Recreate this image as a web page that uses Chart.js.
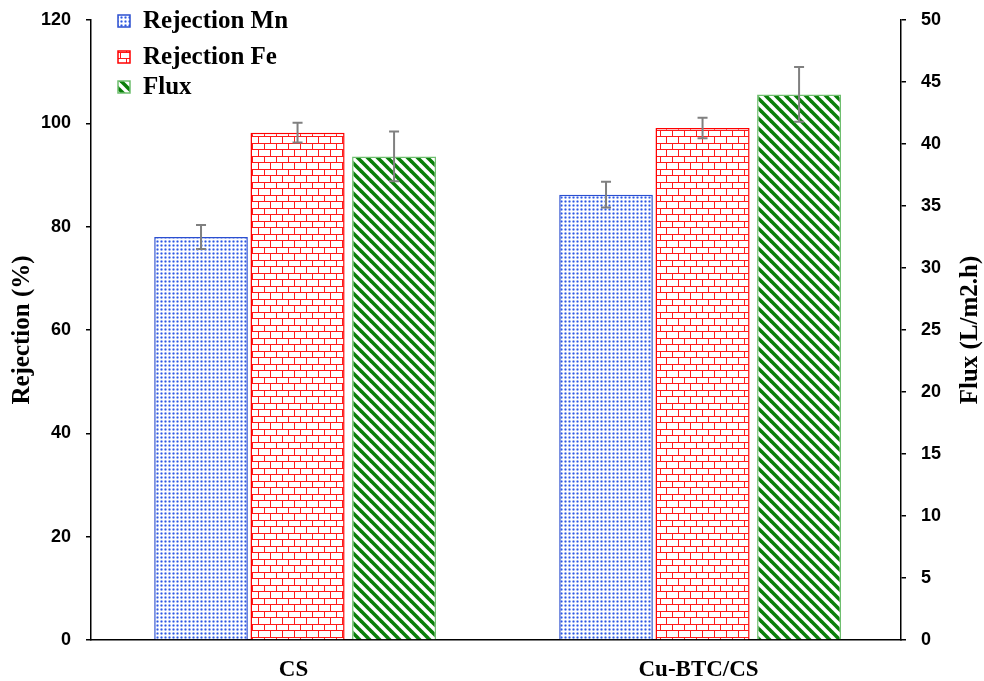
<!DOCTYPE html>
<html>
<head>
<meta charset="utf-8">
<title>Rejection and flux</title>
<script src="https://cdn.jsdelivr.net/npm/chart.js@4.4.1/dist/chart.umd.min.js"></script>
<style>
  html, body { margin: 0; padding: 0; background: #fff; }
  #wrap { position: relative; width: 984px; height: 681px; }
</style>
</head>
<body>
<div id="wrap"><canvas id="chart"></canvas></div>
<script>
const categories = ['CS', 'Cu-BTC/CS'];
const rejectionMn = [78.0, 86.2];
const rejectionMnError = [2.3, 2.5];
const rejectionFe = [98.2, 99.1];
const rejectionFeError = [1.9, 2.0];
const flux = [39.0, 44.0];
const fluxError = [2.0, 2.2];
const legendLabels = ['Rejection Mn', 'Rejection Fe', 'Flux'];

const serifBold = 'bold 25px "Liberation Serif", "Times New Roman", serif';

function makeTile(w, h, draw) {
  const c = document.createElement('canvas');
  c.width = w;
  c.height = h;
  const g = c.getContext('2d');
  g.fillStyle = '#fff';
  g.fillRect(0, 0, w, h);
  draw(g);
  return g.createPattern(c, 'repeat');
}

// blue dotted fill
const dotPattern = makeTile(4, 4, (g) => {
  g.fillStyle = '#d2ddfb';
  g.fillRect(0, 0, 3, 3);
  g.fillStyle = '#86a0f0';
  g.fillRect(1, 0, 1, 3);
  g.fillRect(0, 1, 3, 1);
  g.fillStyle = '#2f57e0';
  g.fillRect(1, 1, 1, 1);
});

// red brick fill
const brickPattern = makeTile(12, 13, (g) => {
  g.fillStyle = '#ff1a1a';
  g.fillRect(0, 0, 12, 1);
  g.fillRect(0, 6, 12, 1);
  g.fillRect(0, 0, 1, 6);
  g.fillRect(6, 6, 1, 7);
});

// green diagonal stripes
const stripePattern = makeTile(10, 10, (g) => {
  g.strokeStyle = '#0a7f0a';
  g.lineWidth = 3.6;
  [-10, 0, 10].forEach((dx) => {
    g.beginPath();
    g.moveTo(dx - 2, -2);
    g.lineTo(dx + 12, 12);
    g.stroke();
  });
});

const errorBars = [rejectionMnError, rejectionFeError, fluxError];

const errorBarPlugin = {
  id: 'errorBars',
  afterDatasetsDraw(chart) {
    const ctx = chart.ctx;
    ctx.save();
    ctx.strokeStyle = '#808080';
    ctx.lineWidth = 2;
    chart.data.datasets.forEach((ds, i) => {
      const meta = chart.getDatasetMeta(i);
      const scale = chart.scales[ds.yAxisID];
      meta.data.forEach((bar, j) => {
        const v = ds.data[j];
        const e = errorBars[i][j];
        const yTop = scale.getPixelForValue(v + e);
        const yBot = scale.getPixelForValue(v - e);
        ctx.beginPath();
        ctx.moveTo(bar.x, yTop);
        ctx.lineTo(bar.x, yBot);
        ctx.moveTo(bar.x - 5, yTop);
        ctx.lineTo(bar.x + 5, yTop);
        ctx.moveTo(bar.x - 5, yBot);
        ctx.lineTo(bar.x + 5, yBot);
        ctx.stroke();
      });
    });
    ctx.restore();
  }
};

const legendPlugin = {
  id: 'sideLegend',
  afterDraw(chart) {
    const ctx = chart.ctx;
    const rows = [21, 57, 87];
    ctx.save();
    ctx.font = serifBold;
    ctx.textBaseline = 'middle';
    chart.data.datasets.forEach((ds, i) => {
      const y = rows[i];
      ctx.fillStyle = ds.backgroundColor;
      ctx.fillRect(118, y - 6, 12, 12);
      ctx.strokeStyle = ds.borderColor;
      ctx.lineWidth = 1.5;
      ctx.strokeRect(118, y - 6, 12, 12);
      ctx.fillStyle = '#000';
      ctx.fillText(legendLabels[i], 143, y + 1);
    });
    ctx.restore();
  }
};

const axisTitlePlugin = {
  id: 'axisTitles',
  afterDraw(chart) {
    const ctx = chart.ctx;
    const area = chart.chartArea;
    const mid = (area.top + area.bottom) / 2;
    ctx.save();
    ctx.font = serifBold;
    ctx.fillStyle = '#000';
    ctx.textAlign = 'center';
    ctx.textBaseline = 'middle';
    [[23, 'Rejection (%)'], [971, 'Flux (L/m2.h)']].forEach(([x, text]) => {
      ctx.save();
      ctx.translate(x, mid);
      ctx.rotate(-Math.PI / 2);
      ctx.fillText(text, 0, 0);
      ctx.restore();
    });
    ctx.restore();
  }
};

const tickFont = { family: '"Liberation Sans", Arial, sans-serif', size: 18, weight: 'bold' };

// fixed axis widths, and no extra room reserved above the top tick label
function fitValueAxis(width) {
  return (scale) => {
    scale.width = width;
    scale.paddingTop = 0;
    scale.paddingBottom = 0;
  };
}

new Chart(document.getElementById('chart'), {
  type: 'bar',
  data: {
    labels: categories,
    datasets: [
      { label: legendLabels[0], data: rejectionMn, yAxisID: 'y', backgroundColor: dotPattern, borderColor: '#2b4fd0', borderWidth: 1.5, barPercentage: 0.97 },
      { label: legendLabels[1], data: rejectionFe, yAxisID: 'y', backgroundColor: brickPattern, borderColor: '#ff0000', borderWidth: 1.5, barPercentage: 0.975 },
      { label: legendLabels[2], data: flux, yAxisID: 'y1', backgroundColor: stripePattern, borderColor: '#6fbf6f', borderWidth: 1.5, barPercentage: 0.87 }
    ]
  },
  options: {
    responsive: true,
    maintainAspectRatio: false,
    animation: false,
    categoryPercentage: 0.715,
    layout: { padding: { top: 20, left: 0, right: 0, bottom: 0 } },
    plugins: {
      legend: { display: false },
      tooltip: { enabled: false }
    },
    scales: {
      x: {
        grid: { display: false },
        border: { display: true, color: '#000', width: 1.5 },
        ticks: {
          color: '#000',
          padding: 8,
          labelOffset: -4,
          font: { family: '"Liberation Serif", "Times New Roman", serif', size: 23, weight: 'bold' }
        },
        // bar groups sit a few pixels right of the category centre in the original
        afterBuildTicks(scale) { scale._startValue -= 0.01; },
        afterFit(scale) { scale.height = 41; }
      },
      y: {
        position: 'left',
        min: 0,
        max: 120,
        ticks: { stepSize: 20, color: '#000', padding: 15, font: tickFont },
        grid: { drawOnChartArea: false, drawTicks: true, tickLength: 5, color: '#000', lineWidth: 1.5 },
        border: { display: true, color: '#000', width: 1.5 },
        afterFit: fitValueAxis(91)
      },
      y1: {
        position: 'right',
        min: 0,
        max: 50,
        ticks: { stepSize: 5, color: '#000', padding: 15, font: tickFont },
        grid: { drawOnChartArea: false, drawTicks: true, tickLength: 5, color: '#000', lineWidth: 1.5 },
        border: { display: true, color: '#000', width: 1.5 },
        afterFit: fitValueAxis(83)
      }
    }
  },
  plugins: [errorBarPlugin, legendPlugin, axisTitlePlugin]
});
</script>
</body>
</html>
